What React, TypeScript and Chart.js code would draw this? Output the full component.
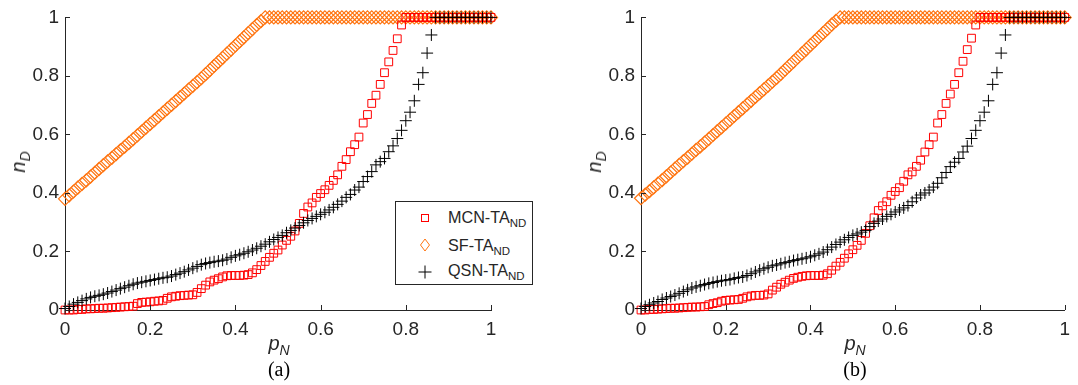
import React, { useEffect, useRef } from "react";
import { Chart, registerables } from "chart.js";

Chart.register(...registerables);

// Fraction of nodes p_N (abscissa shared by every series)
const P_N = [
  0, 0.01, 0.02, 0.03, 0.04, 0.05, 0.06, 0.07, 0.08, 0.09,
  0.1, 0.11, 0.12, 0.13, 0.14, 0.15, 0.16, 0.17, 0.18, 0.19,
  0.2, 0.21, 0.22, 0.23, 0.24, 0.25, 0.26, 0.27, 0.28, 0.29,
  0.3, 0.31, 0.32, 0.33, 0.34, 0.35, 0.36, 0.37, 0.38, 0.39,
  0.4, 0.41, 0.42, 0.43, 0.44, 0.45, 0.46, 0.47, 0.48, 0.49,
  0.5, 0.51, 0.52, 0.53, 0.54, 0.55, 0.56, 0.57, 0.58, 0.59,
  0.6, 0.61, 0.62, 0.63, 0.64, 0.65, 0.66, 0.67, 0.68, 0.69,
  0.7, 0.71, 0.72, 0.73, 0.74, 0.75, 0.76, 0.77, 0.78, 0.79,
  0.8, 0.81, 0.82, 0.83, 0.84, 0.85, 0.86, 0.87, 0.88, 0.89,
  0.9, 0.91, 0.92, 0.93, 0.94, 0.95, 0.96, 0.97, 0.98, 0.99,
  1,
];

// Panel (a)
const MCN_A = [
  0, 0, 0, 0.002, 0.002, 0.004, 0.004, 0.005, 0.006, 0.006,
  0.007, 0.008, 0.009, 0.01, 0.011, 0.012, 0.013, 0.022, 0.026, 0.027,
  0.028, 0.03, 0.031, 0.033, 0.04, 0.045, 0.047, 0.049, 0.05, 0.051,
  0.052, 0.06, 0.073, 0.085, 0.096, 0.102, 0.107, 0.113, 0.117, 0.118,
  0.118, 0.118, 0.119, 0.121, 0.127, 0.138, 0.152, 0.166, 0.18, 0.194,
  0.205, 0.222, 0.238, 0.252, 0.27, 0.296, 0.33, 0.352, 0.366, 0.385,
  0.398, 0.411, 0.426, 0.443, 0.462, 0.491, 0.514, 0.541, 0.565, 0.591,
  0.639, 0.668, 0.706, 0.734, 0.771, 0.811, 0.848, 0.887, 0.927, 0.974,
  1, 1, 1, 1, 1, 1, 1, 1, 1, 1,
  1, 1, 1, 1, 1, 1, 1, 1, 1, 1,
  1,
];
const SF_A = [
  0.38, 0.392, 0.405, 0.418, 0.431, 0.443, 0.456, 0.469, 0.482, 0.495,
  0.508, 0.52, 0.533, 0.546, 0.558, 0.571, 0.584, 0.597, 0.61, 0.623,
  0.636, 0.649, 0.662, 0.675, 0.688, 0.701, 0.714, 0.727, 0.74, 0.753,
  0.766, 0.779, 0.792, 0.806, 0.82, 0.834, 0.848, 0.862, 0.876, 0.89,
  0.904, 0.918, 0.932, 0.946, 0.96, 0.974, 0.987, 1, 1, 1,
  1, 1, 1, 1, 1, 1, 1, 1, 1, 1,
  1, 1, 1, 1, 1, 1, 1, 1, 1, 1,
  1, 1, 1, 1, 1, 1, 1, 1, 1, 1,
  1, 1, 1, 1, 1, 1, 1, 1, 1, 1,
  1, 1, 1, 1, 1, 1, 1, 1, 1, 1,
  1,
];
const QSN_A = [
  0.005, 0.012, 0.02, 0.026, 0.032, 0.038, 0.043, 0.047, 0.05, 0.054,
  0.058, 0.063, 0.068, 0.073, 0.078, 0.083, 0.088, 0.092, 0.095, 0.098,
  0.101, 0.104, 0.107, 0.11, 0.112, 0.116, 0.121, 0.126, 0.131, 0.137,
  0.143, 0.149, 0.155, 0.159, 0.162, 0.165, 0.167, 0.17, 0.174, 0.18,
  0.185, 0.189, 0.194, 0.199, 0.205, 0.211, 0.218, 0.225, 0.233, 0.241,
  0.248, 0.255, 0.264, 0.272, 0.28, 0.289, 0.298, 0.306, 0.313, 0.32,
  0.327, 0.334, 0.342, 0.351, 0.361, 0.372, 0.385, 0.395, 0.41, 0.42,
  0.439, 0.456, 0.473, 0.496, 0.507, 0.518, 0.541, 0.561, 0.586, 0.614,
  0.647, 0.676, 0.715, 0.771, 0.811, 0.878, 0.94, 1, 1, 1,
  1, 1, 1, 1, 1, 1, 1, 1, 1, 1,
  1,
];

// Panel (b)
const MCN_B = [
  0, 0, 0.002, 0.002, 0.003, 0.004, 0.005, 0.006, 0.006, 0.007,
  0.008, 0.009, 0.01, 0.01, 0.011, 0.012, 0.018, 0.022, 0.025, 0.03,
  0.033, 0.034, 0.035, 0.036, 0.04, 0.045, 0.048, 0.05, 0.05, 0.051,
  0.055, 0.068, 0.078, 0.088, 0.095, 0.102, 0.108, 0.112, 0.115, 0.117,
  0.118, 0.118, 0.118, 0.119, 0.124, 0.136, 0.15, 0.163, 0.177, 0.192,
  0.206, 0.221, 0.238, 0.262, 0.288, 0.315, 0.34, 0.356, 0.37, 0.392,
  0.405, 0.418, 0.44, 0.462, 0.472, 0.491, 0.512, 0.54, 0.565, 0.591,
  0.639, 0.668, 0.706, 0.738, 0.771, 0.811, 0.85, 0.89, 0.929, 0.974,
  1, 1, 1, 1, 1, 1, 1, 1, 1, 1,
  1, 1, 1, 1, 1, 1, 1, 1, 1, 1,
  1,
];
const SF_B = [
  0.382, 0.394, 0.406, 0.419, 0.432, 0.444, 0.457, 0.47, 0.483, 0.496,
  0.509, 0.521, 0.534, 0.547, 0.559, 0.572, 0.585, 0.598, 0.611, 0.624,
  0.637, 0.65, 0.663, 0.676, 0.689, 0.702, 0.715, 0.728, 0.741, 0.754,
  0.767, 0.78, 0.793, 0.807, 0.821, 0.835, 0.849, 0.863, 0.877, 0.891,
  0.905, 0.919, 0.933, 0.947, 0.961, 0.975, 0.988, 1, 1, 1,
  1, 1, 1, 1, 1, 1, 1, 1, 1, 1,
  1, 1, 1, 1, 1, 1, 1, 1, 1, 1,
  1, 1, 1, 1, 1, 1, 1, 1, 1, 1,
  1, 1, 1, 1, 1, 1, 1, 1, 1, 1,
  1, 1, 1, 1, 1, 1, 1, 1, 1, 1,
  1,
];
const QSN_B = [
  0.005, 0.012, 0.018, 0.024, 0.029, 0.036, 0.041, 0.046, 0.051, 0.057,
  0.063, 0.069, 0.075, 0.079, 0.083, 0.087, 0.091, 0.094, 0.097, 0.1,
  0.102, 0.104, 0.108, 0.111, 0.113, 0.118, 0.124, 0.13, 0.136, 0.141,
  0.146, 0.151, 0.154, 0.158, 0.162, 0.165, 0.169, 0.172, 0.175, 0.178,
  0.182, 0.187, 0.192, 0.198, 0.206, 0.215, 0.224, 0.232, 0.24, 0.248,
  0.255, 0.26, 0.266, 0.272, 0.285, 0.296, 0.304, 0.311, 0.32, 0.327,
  0.335, 0.342, 0.349, 0.357, 0.37, 0.383, 0.393, 0.4, 0.41, 0.42,
  0.433, 0.452, 0.47, 0.49, 0.505, 0.518, 0.54, 0.56, 0.586, 0.614,
  0.647, 0.676, 0.715, 0.771, 0.811, 0.878, 0.94, 1, 1, 1,
  1, 1, 1, 1, 1, 1, 1, 1, 1, 1,
  1,
];

const AXIS_TICKS = [0, 0.2, 0.4, 0.6, 0.8, 1];
const SERIES_NAMES = ["MCN-TA", "SF-TA", "QSN-TA"];
const SERIES_SUB = "ND";

const AXIS_COLOR = "#262626";
const RED = "#ff0000";
const ORANGE = "#ff7410";
const BLACK = "#000000";
const SANS = '"Liberation Sans", Arial, Helvetica, sans-serif';
const SERIF = '"Liberation Serif", "Times New Roman", serif';

const toPoints = (ys: number[]) => P_N.map((x, i) => ({ x, y: ys[i] }));
const tickLabel = (v: any) => String(Math.round(Number(v) * 10) / 10);

// Short tick marks pointing into the plot area, on the left and bottom axes
const inwardTicks = {
  id: "inwardTicks",
  afterDatasetsDraw(chart: any) {
    const { ctx, chartArea } = chart;
    const xs = chart.scales.x;
    const ys = chart.scales.y;
    ctx.save();
    ctx.strokeStyle = AXIS_COLOR;
    ctx.lineWidth = 1;
    ctx.beginPath();
    for (const v of AXIS_TICKS) {
      const px = Math.round(xs.getPixelForValue(v)) + 0.5;
      ctx.moveTo(px, chartArea.bottom);
      ctx.lineTo(px, chartArea.bottom - 5);
      const py = Math.round(ys.getPixelForValue(v)) + 0.5;
      ctx.moveTo(chartArea.left, py);
      ctx.lineTo(chartArea.left + 5, py);
    }
    ctx.stroke();
    ctx.restore();
  },
};

function makeConfig(mcn: number[], sf: number[], qsn: number[], yAxisWidth: number, rightPad: number): any {
  const tickFont = { family: SANS, size: 19 };
  const common = {
    type: "linear",
    min: 0,
    max: 1,
    grid: { display: false, drawTicks: false },
    border: { display: true, color: AXIS_COLOR, width: 1 },
  };
  return {
    type: "scatter",
    data: {
      datasets: [
        {
          label: SERIES_NAMES[2] + SERIES_SUB,
          data: toPoints(qsn),
          pointStyle: "cross",
          pointRadius: 6,
          pointBorderWidth: 1,
          pointBorderColor: BLACK,
          pointBackgroundColor: "rgba(0,0,0,0)",
          clip: false,
          order: 0,
        },
        {
          label: SERIES_NAMES[0] + SERIES_SUB,
          data: toPoints(mcn),
          pointStyle: "rect",
          pointRadius: 5.5,
          pointBorderWidth: 1,
          pointBorderColor: RED,
          pointBackgroundColor: "rgba(0,0,0,0)",
          clip: false,
          order: 1,
        },
        {
          label: SERIES_NAMES[1] + SERIES_SUB,
          data: toPoints(sf),
          pointStyle: "rectRot",
          pointRadius: 6.5,
          pointBorderWidth: 1.2,
          pointBorderColor: ORANGE,
          pointBackgroundColor: "rgba(0,0,0,0)",
          clip: false,
          order: 2,
        },
      ],
    },
    options: {
      animation: false,
      responsive: false,
      devicePixelRatio: 1,
      events: [],
      layout: { padding: { top: 14, right: rightPad, bottom: 0, left: 0 } },
      plugins: { legend: { display: false }, tooltip: { enabled: false } },
      scales: {
        x: {
          ...common,
          ticks: {
            stepSize: 0.2,
            color: AXIS_COLOR,
            font: tickFont,
            padding: 8,
            maxRotation: 0,
            autoSkip: false,
            callback: tickLabel,
          },
          afterFit: (s: any) => {
            s.height = 75;
          },
        },
        y: {
          ...common,
          ticks: { stepSize: 0.2, color: AXIS_COLOR, font: tickFont, padding: 6, autoSkip: false, callback: tickLabel },
          afterFit: (s: any) => {
            s.width = yAxisWidth;
          },
        },
      },
    },
    plugins: [inwardTicks],
  };
}

const abs = (left: number, top: number, extra: React.CSSProperties = {}): React.CSSProperties => ({
  position: "absolute",
  left,
  top,
  whiteSpace: "nowrap",
  lineHeight: 1,
  ...extra,
});

function YTitle({ cx, cy }: { cx: number; cy: number }) {
  return (
    <div
      style={abs(cx, cy, {
        transform: "translate(-50%, -50%) rotate(-90deg)",
        fontFamily: SANS,
        fontSize: 20,
        fontStyle: "italic",
        color: AXIS_COLOR,
      })}
    >
      n<span style={{ fontSize: 14, position: "relative", top: 5 }}>D</span>
    </div>
  );
}

function XTitle({ cx, cy }: { cx: number; cy: number }) {
  return (
    <div
      style={abs(cx, cy, {
        transform: "translate(-50%, -50%)",
        fontFamily: SANS,
        fontSize: 20,
        fontStyle: "italic",
        color: AXIS_COLOR,
      })}
    >
      p<span style={{ fontSize: 14, position: "relative", top: 5 }}>N</span>
    </div>
  );
}

function Caption({ cx, top, text }: { cx: number; top: number; text: string }) {
  return (
    <div style={abs(cx, top, { transform: "translateX(-50%)", fontFamily: SERIF, fontSize: 20, color: "#000" })}>
      {text}
    </div>
  );
}

function Legend({ left, top }: { left: number; top: number }) {
  const markers = [
    <svg width={12} height={12} key="m">
      <rect x={2.5} y={2.5} width={7} height={7} fill="none" stroke={RED} strokeWidth={1} />
    </svg>,
    <svg width={12} height={14} key="s">
      <polygon points="6,1 10.5,7 6,13 1.5,7" fill="none" stroke={ORANGE} strokeWidth={1} />
    </svg>,
    <svg width={14} height={14} key="q">
      <path d="M7 0.5 V13.5 M0.5 7 H13.5" stroke={BLACK} strokeWidth={1} fill="none" />
    </svg>,
  ];
  const markerCenters = [15.7, 43.3, 70];
  const textTops = [7, 34.6, 60.3];
  const markerSizes = [
    [12, 12],
    [12, 14],
    [14, 14],
  ];
  return (
    <div
      style={{
        position: "absolute",
        left,
        top,
        width: 138,
        height: 84,
        boxSizing: "border-box",
        border: `1px solid ${AXIS_COLOR}`,
        background: "#fff",
      }}
    >
      {SERIES_NAMES.map((name, i) => (
        <React.Fragment key={name}>
          <div style={abs(29 - markerSizes[i][0] / 2, markerCenters[i] - markerSizes[i][1] / 2, { display: "flex" })}>
            {markers[i]}
          </div>
          <div style={abs(52, textTops[i], { fontFamily: SANS, fontSize: 16.2, color: AXIS_COLOR })}>
            {name}
            <span style={{ fontSize: 11.5, position: "relative", top: 4 }}>{SERIES_SUB}</span>
          </div>
        </React.Fragment>
      ))}
    </div>
  );
}

export default function App() {
  const refA = useRef<HTMLCanvasElement>(null);
  const refB = useRef<HTMLCanvasElement>(null);

  useEffect(() => {
    const chartA = new Chart(refA.current as HTMLCanvasElement, makeConfig(MCN_A, SF_A, QSN_A, 65, 48));
    const chartB = new Chart(refB.current as HTMLCanvasElement, makeConfig(MCN_B, SF_B, QSN_B, 102, 10));
    return () => {
      chartA.destroy();
      chartB.destroy();
    };
  }, []);

  return (
    <div
      style={{
        position: "fixed",
        left: 0,
        top: 0,
        width: 1078,
        height: 385,
        background: "#fff",
        overflow: "hidden",
      }}
    >
      <canvas ref={refA} width={539} height={385} style={{ position: "absolute", left: 0, top: 0 }} />
      <canvas ref={refB} width={539} height={385} style={{ position: "absolute", left: 539, top: 0 }} />

      <YTitle cx={18} cy={162} />
      <YTitle cx={594} cy={162} />
      <XTitle cx={279} cy={343} />
      <XTitle cx={855} cy={343} />
      <Caption cx={279} top={359} text="(a)" />
      <Caption cx={855} top={359} text="(b)" />

      <Legend left={395} top={201} />
    </div>
  );
}
